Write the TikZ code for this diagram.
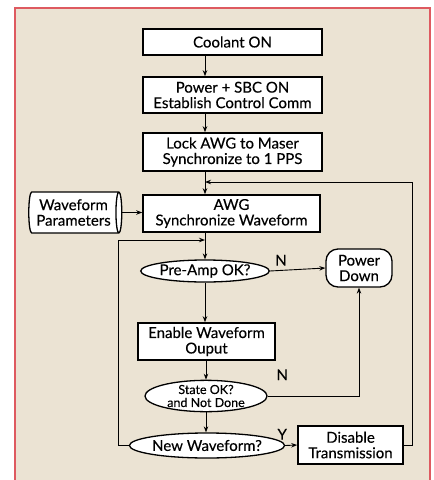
\documentclass[tikz,border=0pt]{standalone}
\usepackage{fontspec}
\setmainfont{Lato}[FakeBold=0.3]
\usetikzlibrary{shapes.geometric,arrows.meta}
\definecolor{panel}{HTML}{EBE3D3}
\definecolor{frame}{HTML}{DE5A60}
\begin{document}
\begin{tikzpicture}[x=1pt, y=-1pt, font=\fontsize{15}{15.5}\selectfont,
    >={Stealth[length=6pt,width=4.5pt]},
    box/.style={draw, line width=1.6pt, fill=white, align=center, inner sep=1pt},
    ask/.style={draw, ellipse, line width=1.3pt, fill=white, align=center, inner sep=0pt},
    flow/.style={line width=0.9pt}]
    \useasboundingbox (0,0) rectangle (434,480);
    % Rahmen
    \fill[panel] (15,8) rectangle (430,480);
    \draw[frame, line width=1.3pt] (15,480) -- (15,8) -- (430,8) -- (430,480);
    \coordinate (spine) at (205,0);

    % Ablauf
    \node[box, minimum width=179pt, minimum height=26pt] (coolant) at (232.5,42) {Coolant ON};
    \node[box, minimum width=179pt, minimum height=36pt] (power) at (232.5,95) {Power + SBC ON\\Establish Control Comm};
    \node[box, minimum width=179pt, minimum height=38pt] (lock) at (232.5,152) {Lock AWG to Maser\\Synchronize to 1 PPS};
    \node[box, minimum width=177pt, minimum height=37pt] (awg) at (231.5,213.5) {AWG\\Synchronize Waveform};
    \node[draw, cylinder, aspect=0.22, line width=1.3pt, fill=white, align=center,
          inner sep=0pt, minimum width=41pt, minimum height=93pt] (params) at (73.5,212.5) {Waveform\\Parameters};
    \node[ask, minimum width=122pt, minimum height=22pt] (preamp) at (205,271) {Pre-Amp OK?};
    \node[draw, rounded corners=12pt, line width=1.3pt, fill=white, align=center, inner sep=1pt,
          minimum width=66pt, minimum height=38pt] (down) at (359,268) {Power\\Down};
    \node[box, minimum width=137pt, minimum height=37pt] (enable) at (206.5,341.5) {Enable Waveform\\Ouput};
    \node[ask, minimum width=122pt, minimum height=28pt, font=\fontsize{12.5}{13}\selectfont] (state) at (206,396) {State OK?\\and Not Done};
    \node[ask, minimum width=138pt, minimum height=25pt] (newwf) at (207,445.5) {New Waveform?};
    \node[box, minimum width=105pt, minimum height=38pt] (disable) at (350.5,445) {Disable\\Transmission};

    % Pfeile
    \draw[flow,->] (coolant.south -| spine) -- (power.north -| spine);
    \draw[flow,->] (power.south -| spine) -- (lock.north -| spine);
    \draw[flow,->] (lock.south -| spine) -- (awg.north -| spine);
    \draw[flow,->] (params.east) -- (params.east -| awg.west);
    \draw[flow,->] (awg.south -| spine) -- (preamp.north);
    \draw[flow,->] (preamp.east) -- (down.west) node[pos=0.2, above=1pt] {N};
    \draw[flow,->] (preamp.south) -- (enable.north -| preamp.south);
    \draw[flow,->] (enable.south -| state.north) -- (state.north);
    \draw[flow,->] (state.east) -| (down.south) node[pos=0.08, above=12pt] {N};
    \draw[flow,->] (state.south) -- (newwf.north -| state.south);
    \draw[flow,->] (newwf.east) -- (disable.west) node[pos=0, above=2pt, xshift=-3pt] {Y};
    % Ruecklaeufe
    \coordinate (backtop) at (412,182);
    \coordinate (backloop) at (118,240);
    \draw[flow,->] (disable.east) -| (backtop) -- (backtop -| spine);
    \draw[flow,->] (newwf.west) -| (backloop) -- (backloop -| spine);
\end{tikzpicture}
\end{document}
